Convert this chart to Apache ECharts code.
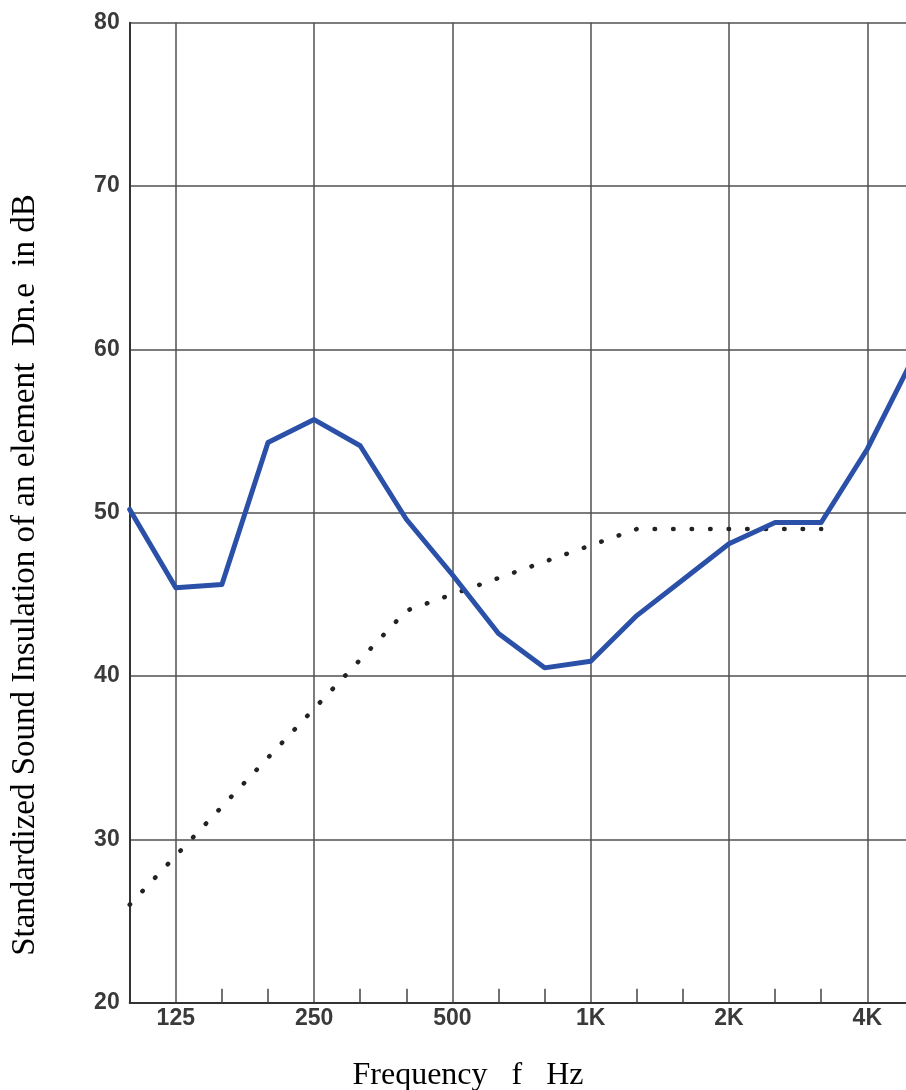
<!DOCTYPE html>
<html>
<head>
<meta charset="utf-8">
<script src="https://cdn.jsdelivr.net/npm/echarts@6/dist/echarts.min.js"></script>
<style>
  html, body { margin: 0; padding: 0; background: #fff; }
  #chart { width: 906px; height: 1090px; }
</style>
</head>
<body>
<div id="chart"></div>
<script>
// 1/3-octave band centre frequencies (Hz)
var bands = ['100','125','160','200','250','315','400','500','630','800','1000','1250','1600','2000','2500','3150','4000','5000'];
// Labelled octave bands
var majorLabels = {'125':'125','250':'250','500':'500','1000':'1K','2000':'2K','4000':'4K'};
// Measured Dn,e (blue solid curve), dB
var measured = [50.2, 45.4, 45.6, 54.3, 55.7, 54.1, 49.6, 46.2, 42.6, 40.5, 40.9, 43.7, 45.9, 48.1, 49.4, 49.4, 53.9, 59.5];
// Shifted reference curve (dotted), dB, 100 Hz - 3150 Hz
var reference = [26, 29, 32, 35, 38, 41, 44, 45, 46, 47, 48, 49, 49, 49, 49, 49];
// Y axis ticks
var yMin = 20, yMax = 80, yStep = 10;

var yTitle = 'Standardized Sound Insulation of an element  Dn.e  in dB';
var xTitle = 'Frequency   f   Hz';

var chart = echarts.init(document.getElementById('chart'), null, {renderer: 'canvas'});

function isMajor(idx) { return majorLabels.hasOwnProperty(bands[idx]); }

var option = {
  animation: false,
  backgroundColor: '#ffffff',
  grid: { left: 129.7, top: 22.7, width: 783.7, height: 980, containLabel: false, outerBoundsMode: 'none' },
  xAxis: {
    type: 'category',
    data: bands,
    boundaryGap: false,
    axisLine: { show: true, lineStyle: { color: '#333', width: 2 } },
    axisTick: {
      show: true, inside: true, length: 14,
      interval: function (idx) { return idx > 0 && !isMajor(idx); },
      lineStyle: { color: '#444', width: 1.5 }
    },
    axisLabel: {
      interval: 0,
      margin: 4,
      formatter: function (v) { return majorLabels[v] || ''; },
      color: '#3a3a3a',
      fontFamily: 'Liberation Sans',
      fontWeight: 'bold',
      fontSize: 23
    },
    splitLine: {
      show: true,
      interval: function (idx) { return isMajor(idx); },
      lineStyle: { color: '#505050', width: 1.5 }
    }
  },
  yAxis: {
    type: 'value',
    min: yMin, max: yMax, interval: yStep,
    axisLine: { show: true, lineStyle: { color: '#333', width: 2 } },
    axisTick: { show: false },
    axisLabel: {
      margin: 10,
      color: '#3a3a3a',
      fontFamily: 'Liberation Sans',
      fontWeight: 'bold',
      fontSize: 23
    },
    splitLine: { show: true, lineStyle: { color: '#505050', width: 1.5 } }
  },
  series: [
    {
      type: 'line',
      data: reference,
      symbol: 'none',
      lineStyle: { color: '#222', width: 4.5, type: [0.5, 18], cap: 'round' },
      z: 2
    },
    {
      type: 'line',
      data: measured,
      symbol: 'none',
      lineStyle: { color: '#2b50a8', width: 5, join: 'round', cap: 'round' },
      z: 3
    }
  ],
  graphic: [
    {
      type: 'text',
      x: 25, y: 575,
      rotation: Math.PI / 2,
      style: {
        text: yTitle,
        font: '33px "Liberation Serif"',
        fill: '#000',
        textAlign: 'center',
        textVerticalAlign: 'middle'
      }
    },
    {
      type: 'text',
      x: 468, y: 1076,
      style: {
        text: xTitle,
        font: '32px "Liberation Serif"',
        fill: '#000',
        textAlign: 'center',
        textVerticalAlign: 'middle'
      }
    }
  ]
};
chart.setOption(option);
</script>
</body>
</html>
